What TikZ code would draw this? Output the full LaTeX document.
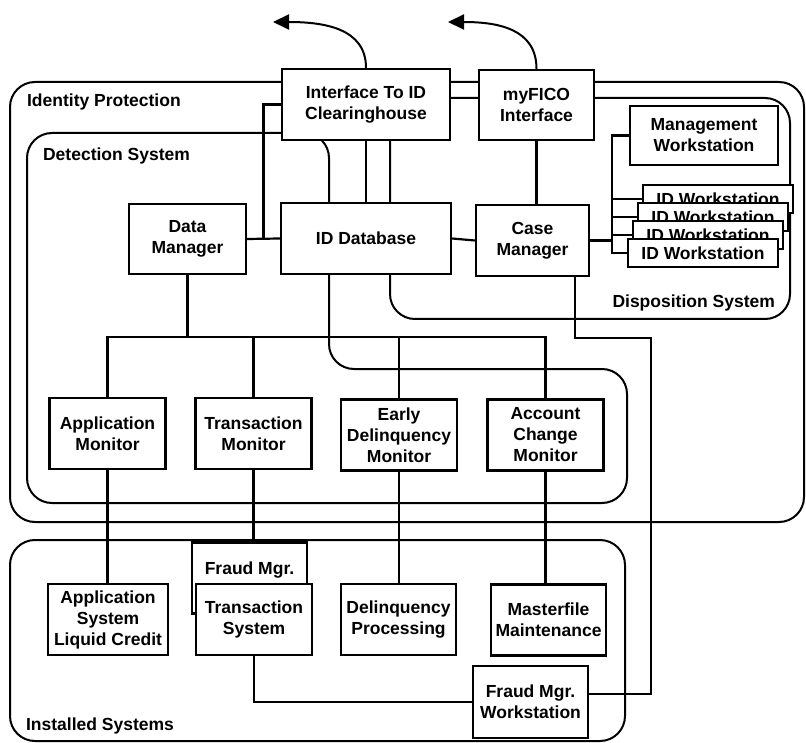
\documentclass[tikz,border=0pt]{standalone}
\usepackage{fontspec}
\setmainfont{Liberation Sans}
\usetikzlibrary{arrows.meta}

\begin{document}
\begin{tikzpicture}[x=1pt, y=-1pt, line width=2.2pt, font=\fontsize{17.5}{21}\selectfont\bfseries,
  sysbox/.style={draw, fill=white, line width=2.4pt, align=center, inner sep=1pt, minimum width=116pt, minimum height=71pt},
  wsbox/.style={sysbox, minimum width=150pt, minimum height=28pt},
  region/.style={draw, line width=2pt, rounded corners=25pt},
  tag/.style={inner sep=0pt}]
\useasboundingbox (0,0) rectangle (806,743);
\draw[region] (10,82) rectangle (804,522);
\draw[region] (329,250) -- (329,369) -- (627,369) -- (627,503) -- (27,503) -- (27,133) -- (329,133) -- cycle;
\draw[region] (390,98) rectangle (790,319);
\draw[region] (10,540) rectangle (625,741);
\node[tag, anchor=west] (lidp) at (26,102) {Identity Protection};
\node[tag, anchor=west] (ldet) at (42,156) {Detection System};
\node[tag, anchor=east] (ldisp) at (776,303) {Disposition System};
\node[tag, anchor=west] (linst) at (25,726) {Installed Systems};
\node[sysbox, minimum width=168pt] (ich) at (366,104.5) {Interface To ID\\Clearinghouse};
\node[sysbox, minimum width=115pt, minimum height=70pt] (fico) at (536.5,105) {myFICO\\Interface};
\node[sysbox, minimum width=117pt, minimum height=70pt] (dm) at (187.5,239) {Data\\Manager};
\node[sysbox, minimum width=170pt] (iddb) at (366,238.5) {ID Database};
\node[sysbox, minimum width=113pt] (cm) at (532.5,240.5) {Case\\Manager};
\node[sysbox, minimum width=148pt, minimum height=59pt] (mws) at (704,135.5) {Management\\Workstation};
\node[wsbox] (ws1) at (718,199) {ID Workstation};
\node[wsbox] (ws2) at (713,217) {ID Workstation};
\node[wsbox] (ws3) at (708,235) {ID Workstation};
\node[wsbox] (ws4) at (703,253) {ID Workstation};
\node[sysbox] (mon1) at (107.5,433.5) {Application\\Monitor};
\node[sysbox] (mon2) at (253.5,433.5) {Transaction\\Monitor};
\node[sysbox] (mon3) at (399,435) {Early\\Delinquency\\Monitor};
\node[sysbox] (mon4) at (545.5,435) {Account\\Change\\Monitor};
\node[sysbox, minimum width=120pt] (sys1) at (108,619.5) {Application\\System\\Liquid Credit};
\node[sysbox, minimum width=115pt, text height=27pt, text depth=35pt, inner ysep=4pt] (fmgr) at (249.5,578) {Fraud Mgr.};
\node[sysbox] (sys2) at (254,619.5) {Transaction\\System};
\node[sysbox, minimum width=115pt] (sys3) at (398.5,619.5) {Delinquency\\Processing};
\node[sysbox, minimum width=115pt] (sys4) at (548.5,620) {Masterfile\\Maintenance};
\node[sysbox, minimum width=115pt, minimum height=72pt] (fws) at (530.5,702) {Fraud Mgr.\\Workstation};
\coordinate (tip1) at (273,22);
\coordinate (tip2) at (448,22);
\coordinate (j1) at (263.5,239);
\draw[line width=2pt, -{Triangle[length=16pt, width=15pt]}] (ich.north) .. controls +(0,-40) and +(50,0) .. (tip1);
\draw[line width=2pt, -{Triangle[length=16pt, width=15pt]}] (fico.north) .. controls +(0,-40) and +(50,0) .. (tip2);
\draw[] (ich.west) -| (j1);
\draw[] (dm.east) -- (iddb.west);
\draw[] (ich.south) -- (iddb.north);
\draw[] (iddb.east) -- (cm.west);
\draw[] (fico.south) -- (fico.south |- cm.north);
\draw[] (cm.east) -- ++(22,0) |- (mws.west);
\draw[] (cm.east) -- ++(22,0) |- (ws1.west);
\draw[] (cm.east) -- ++(22,0) |- (ws2.west);
\draw[] (cm.east) -- ++(22,0) |- (ws3.west);
\draw[] (cm.east) -- ++(22,0) |- (ws4.west);
\draw[] (dm.south) -- ++(0,62) -| (mon1.north);
\draw[] (dm.south) -- ++(0,62) -| (mon2.north);
\draw[] (dm.south) -- ++(0,62) -| (mon3.north);
\draw[] (dm.south) -- ++(0,62) -| (mon4.north);
\draw[] (mon1.south) -- (mon1.south |- sys1.north);
\draw[] (mon2.south) -- (mon2.south |- fmgr.north);
\draw[] (mon3.south) -- (mon3.south |- sys3.north);
\draw[] (mon4.south) -- (mon4.south |- sys4.north);
\draw[] (sys2.south) |- (fws.west);
\draw[] ([xshift=-15pt]cm.south east) -- ++(0,61) -| ([xshift=62pt, yshift=8pt]fws.east) -- ([yshift=8pt]fws.east);
\end{tikzpicture}
\end{document}
